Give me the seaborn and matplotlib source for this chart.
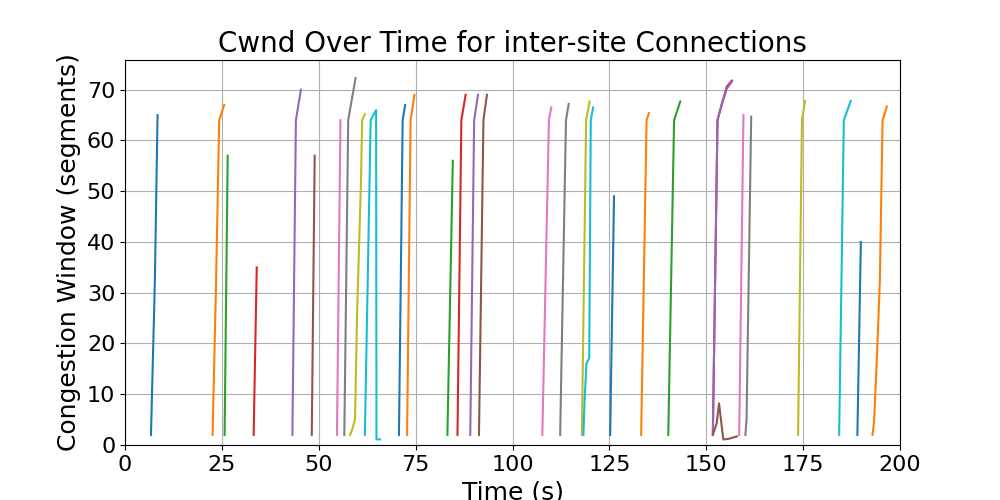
import pandas as pd
import matplotlib
matplotlib.use("Agg")
import matplotlib.pyplot as plt
import seaborn as sns

# Cwnd samples per connection (time in s, cwnd in segments)
conn_times = [
    [6.7, 7.7, 8.4],
    [22.6, 23.5, 24.3, 25.6],
    [25.7, 26.5],
    [33.2, 34.0],
    [43.2, 44.1, 45.4],
    [48.2, 48.95],
    [54.7, 55.6],
    [56.6, 57.6, 59.5],
    [58.1, 58.6, 59.35, 59.9, 60.9, 61.2, 61.9],
    [61.9, 63.4, 64.8, 64.9, 65.8],
    [70.7, 71.65, 72.3],
    [72.8, 73.7, 74.7],
    [83.2, 84.6],
    [85.8, 86.8, 87.9],
    [89.1, 90.1, 91.1],
    [91.35, 92.5, 93.4],
    [107.7, 109.4, 110.0],
    [112.3, 113.8, 114.5],
    [117.9, 119.0, 119.9],
    [118.3, 118.6, 119.1, 119.8, 120.2, 120.8],
    [125.2, 126.2],
    [133.2, 134.6, 135.2],
    [140.2, 141.7, 143.3],
    [151.7, 152.9, 154.0, 155.3, 156.6],
    [151.7, 152.9, 154.0, 155.3, 156.6],
    [151.7, 152.7, 153.3, 154.4, 155.7, 157.9],
    [158.5, 159.6],
    [160.1, 160.4, 161.6],
    [173.7, 174.7, 175.5],
    [184.3, 185.5, 187.3],
    [189.0, 189.9],
    [192.9, 193.3, 194.0, 194.8, 195.5, 196.6],
]
conn_cwnd = [
    [2, 32, 65],
    [2, 32, 64, 67],
    [2, 57],
    [2, 35],
    [2, 64, 70],
    [2, 57],
    [2, 64],
    [2, 64, 72.3],
    [2, 3, 5, 26, 52, 64, 65.2],
    [2, 64, 66, 1.1, 1.1],
    [2, 64, 67],
    [2, 64, 69],
    [2, 56],
    [2, 64, 69],
    [2, 64, 69],
    [2, 64, 69],
    [2, 64, 66.5],
    [2, 64, 67.2],
    [2, 64, 67.7],
    [2, 8.8, 16.1, 17.1, 64, 66.5],
    [2, 49],
    [2, 64, 65.4],
    [2, 64, 67.7],
    [2, 64, 67.2, 70.6, 71.8],
    [2, 64, 67.0, 70.2, 71.6],
    [2, 4.3, 8.2, 1.1, 1.2, 1.7],
    [2, 65],
    [2, 5, 64.7],
    [2, 64, 67.8],
    [2, 64, 67.8],
    [2, 40],
    [2, 4.5, 16.4, 32.4, 64, 66.7],
]

rows = []
for i, (ts, cw) in enumerate(zip(conn_times, conn_cwnd)):
    for t, c in zip(ts, cw):
        rows.append({"conn": i, "time": t, "cwnd": c})
df = pd.DataFrame(rows)

tab10 = sns.color_palette("tab10")
palette = [tab10[i % 10] for i in range(len(conn_times))]

fig, ax = plt.subplots(figsize=(10, 5), dpi=100)
sns.lineplot(data=df, x="time", y="cwnd", hue="conn", palette=palette,
             sort=False, estimator=None, legend=False, linewidth=1.5, ax=ax)

ax.set_xlim(0, 200)
ax.set_ylim(bottom=0)
ax.set_title("Cwnd Over Time for inter-site Connections", fontsize=20)
ax.set_xlabel("Time (s)", fontsize=18)
ax.set_ylabel("Congestion Window (segments)", fontsize=18)
ax.tick_params(labelsize=16)
ax.grid(True)

plt.savefig("out.png")
plt.close()
